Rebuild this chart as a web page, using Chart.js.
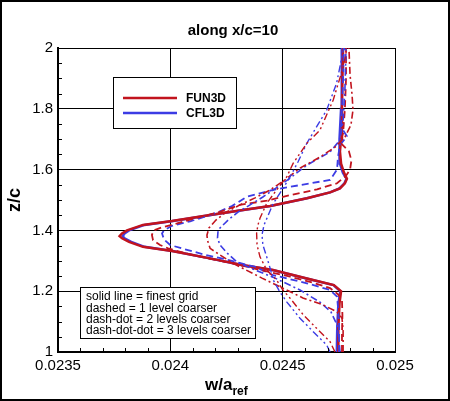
<!DOCTYPE html>
<html>
<head>
<meta charset="utf-8">
<script src="https://cdn.jsdelivr.net/npm/chart.js@4.4.0/dist/chart.umd.min.js"></script>
<style>
  html, body { margin: 0; padding: 0; background: #fff; }
  #wrap { width: 450px; height: 401px; }
</style>
</head>
<body>
<div id="wrap"><canvas id="profileChart"></canvas></div>
<script>
// axis ticks
const wTicks = [0.0235, 0.024, 0.0245, 0.025];
const zTicks = [1, 1.2, 1.4, 1.6, 1.8, 2];
const wMinorTicks = [0.0236, 0.0237, 0.0238, 0.0239, 0.0241, 0.0242, 0.0243, 0.0244,
                     0.0246, 0.0247, 0.0248, 0.0249];
const zMinorTicks = [1.05, 1.1, 1.15, 1.25, 1.3, 1.35, 1.45, 1.5, 1.55, 1.65, 1.7, 1.75, 1.85, 1.9, 1.95];

const titleText = 'along x/c=10';
const legendNames = ['FUN3D', 'CFL3D'];
const noteLines = [
    'solid line = finest grid',
    'dashed = 1 level coarser',
    'dash-dot = 2 levels coarser',
    'dash-dot-dot = 3 levels coarser'
];

// FUN3D, finest grid
const fun3dFineZ = [1.0, 1.08, 1.16, 1.2, 1.22, 1.242, 1.27, 1.286, 1.308, 1.332, 1.346, 1.362, 1.374, 1.381, 1.39, 1.4, 1.418, 1.431, 1.451, 1.467, 1.48, 1.506, 1.525, 1.538, 1.555, 1.57, 1.59, 1.62, 1.66, 1.7, 1.8, 1.9, 2.0];
const fun3dFineW = [0.024748, 0.024748, 0.024753, 0.024760, 0.024728, 0.024608, 0.024457, 0.024319, 0.024177, 0.024007, 0.023878, 0.023816, 0.023785, 0.023774, 0.023785, 0.023807, 0.023878, 0.024007, 0.024177, 0.024323, 0.024444, 0.024608, 0.024711, 0.024755, 0.024777, 0.024786, 0.024773, 0.024760, 0.024755, 0.024760, 0.024764, 0.024766, 0.024769];
// CFL3D, finest grid
const cfl3dFineZ = fun3dFineZ.slice();
const cfl3dFineW = [0.024741, 0.024743, 0.024748, 0.024757, 0.024726, 0.024606, 0.024455, 0.024317, 0.024175, 0.024010, 0.023885, 0.023826, 0.023796, 0.023788, 0.023796, 0.023816, 0.023885, 0.024012, 0.024180, 0.024325, 0.024446, 0.024608, 0.024711, 0.024753, 0.024775, 0.024784, 0.024768, 0.024755, 0.024751, 0.024755, 0.024760, 0.024762, 0.024764];

// 1 level coarser
const fun3dC1Z = [1.0, 1.06, 1.12, 1.17, 1.19, 1.21, 1.226, 1.248, 1.27, 1.29, 1.31, 1.325, 1.341, 1.352, 1.368, 1.385, 1.40, 1.41, 1.423, 1.44, 1.461, 1.484, 1.498, 1.516, 1.535, 1.555, 1.58, 1.60, 1.63, 1.66, 1.69, 1.72, 1.8, 1.9, 2.0];
const fun3dC1W = [0.024764, 0.024764, 0.024766, 0.024764, 0.024746, 0.024711, 0.024644, 0.024533, 0.024399, 0.024288, 0.024154, 0.024065, 0.023990, 0.023954, 0.023923, 0.023918, 0.023927, 0.023963, 0.024030, 0.024110, 0.024221, 0.024310, 0.024430, 0.024533, 0.024653, 0.024742, 0.024782, 0.024800, 0.024806, 0.024795, 0.024755, 0.024769, 0.024777, 0.024782, 0.024782];
const cfl3dC1Z = [1.0, 1.1, 1.15, 1.182, 1.204, 1.226, 1.253, 1.28, 1.30, 1.32, 1.336, 1.352, 1.37, 1.39, 1.40, 1.415, 1.43, 1.445, 1.46, 1.48, 1.511, 1.533, 1.549, 1.566, 1.6, 1.64, 1.68, 1.71, 1.74, 1.8, 1.9, 2.0];
const cfl3dC1W = [0.024751, 0.024751, 0.024746, 0.024742, 0.024711, 0.024608, 0.024457, 0.024377, 0.024274, 0.024154, 0.024074, 0.023999, 0.023972, 0.023963, 0.023972, 0.024007, 0.024088, 0.024154, 0.024212, 0.024274, 0.024341, 0.024457, 0.024577, 0.024711, 0.024742, 0.024746, 0.024755, 0.024786, 0.024760, 0.024764, 0.024769, 0.024773];

// 2 levels coarser
const fun3dC2Z = [1.0, 1.07, 1.112, 1.132, 1.155, 1.178, 1.21, 1.243, 1.28, 1.292, 1.319, 1.341, 1.368, 1.385, 1.408, 1.434, 1.46, 1.484, 1.507, 1.533, 1.566, 1.605, 1.641, 1.674, 1.707, 1.747, 1.796, 1.845, 1.911, 2.0];
const fun3dC2W = [0.024769, 0.024769, 0.024764, 0.024742, 0.024680, 0.024590, 0.024501, 0.024408, 0.024310, 0.024279, 0.024221, 0.024177, 0.024165, 0.024163, 0.024172, 0.024203, 0.024248, 0.024310, 0.024377, 0.024444, 0.024510, 0.024577, 0.024666, 0.024733, 0.024777, 0.024804, 0.024813, 0.024809, 0.024800, 0.024795];
const cfl3dC2Z = [1.0, 1.039, 1.089, 1.132, 1.164, 1.204, 1.243, 1.27, 1.296, 1.326, 1.352, 1.375, 1.395, 1.408, 1.434, 1.46, 1.484, 1.51, 1.539, 1.572, 1.615, 1.658, 1.697, 1.763, 1.862, 2.0];
const cfl3dC2W = [0.024755, 0.024751, 0.024742, 0.024715, 0.024666, 0.024577, 0.024466, 0.024377, 0.024297, 0.024252, 0.024221, 0.024210, 0.024212, 0.024221, 0.024257, 0.024301, 0.024355, 0.024412, 0.024470, 0.024533, 0.024608, 0.024711, 0.024755, 0.024769, 0.024777, 0.024782];

// 3 levels coarser
const fun3dC3Z = [1.0, 1.034, 1.078, 1.122, 1.177, 1.204, 1.237, 1.27, 1.313, 1.352, 1.391, 1.418, 1.44, 1.489, 1.533, 1.576, 1.621, 1.686, 1.73, 1.829, 1.938, 2.0];
const fun3dC3W = [0.024733, 0.024711, 0.024651, 0.024592, 0.024533, 0.024501, 0.024473, 0.024429, 0.024399, 0.024386, 0.024384, 0.024390, 0.024399, 0.024429, 0.024473, 0.024518, 0.024547, 0.024607, 0.024666, 0.024725, 0.024770, 0.024786];
const cfl3dC3Z = [1.0, 1.023, 1.067, 1.111, 1.165, 1.197, 1.237, 1.276, 1.313, 1.352, 1.385, 1.418, 1.44, 1.487, 1.533, 1.576, 1.625, 1.686, 1.737, 1.796, 1.884, 1.993, 2.0];
const cfl3dC3W = [0.024711, 0.024696, 0.024636, 0.024577, 0.024518, 0.024488, 0.024458, 0.024444, 0.024429, 0.024412, 0.024408, 0.024417, 0.024430, 0.024457, 0.024497, 0.024533, 0.024568, 0.024607, 0.024648, 0.024696, 0.024740, 0.024770, 0.024771];

const RED = '#c2141e';
const BLUE = '#3c3ce4';
const FONT = '"Liberation Sans", Arial, Helvetica, sans-serif';

const DASHED = [7, 4];
const DASH_DOT = [7, 3, 2, 3];
const DASH_DOT_DOT = [7, 3, 2, 3, 2, 3];

function toPoints(w, z) {
    return w.map((v, i) => ({ x: v, y: z[i] }));
}

function makeSet(label, w, z, color, dash, width) {
    return {
        label: label,
        data: toPoints(w, z),
        showLine: true,
        fill: false,
        borderColor: color,
        backgroundColor: color,
        borderWidth: width,
        borderDash: dash,
        pointRadius: 0,
        tension: 0
    };
}

const decorPlugin = {
    id: 'decor',
    beforeDraw(chart) {
        const ctx = chart.ctx;
        ctx.save();
        ctx.fillStyle = '#fff';
        ctx.fillRect(0, 0, chart.width, chart.height);
        ctx.restore();
    },
    afterDraw(chart) {
        const ctx = chart.ctx;
        const xs = chart.scales.x;
        const ys = chart.scales.y;
        const area = chart.chartArea;
        ctx.save();

        // minor ticks, inside the plot
        ctx.strokeStyle = '#000';
        ctx.lineWidth = 1;
        ctx.beginPath();
        zMinorTicks.forEach(v => {
            const p = Math.round(ys.getPixelForValue(v)) + 0.5;
            ctx.moveTo(area.left, p);
            ctx.lineTo(area.left + 4, p);
        });
        wMinorTicks.forEach(v => {
            const p = Math.round(xs.getPixelForValue(v)) + 0.5;
            ctx.moveTo(p, area.bottom);
            ctx.lineTo(p, area.bottom - 4);
        });
        ctx.stroke();

        // title
        ctx.fillStyle = '#000';
        ctx.textAlign = 'center';
        ctx.textBaseline = 'middle';
        ctx.font = 'bold 15px ' + FONT;
        ctx.fillText(titleText, 233, 31);

        // x axis title with subscript
        ctx.textAlign = 'left';
        ctx.textBaseline = 'alphabetic';
        ctx.font = 'bold 17px ' + FONT;
        ctx.fillText('w/a', 205, 390);
        const wa = ctx.measureText('w/a').width;
        ctx.font = 'bold 12px ' + FONT;
        ctx.fillText('ref', 205 + wa, 395);

        // y axis title
        ctx.save();
        ctx.translate(20, 200);
        ctx.rotate(-Math.PI / 2);
        ctx.textAlign = 'center';
        ctx.font = 'bold 18px ' + FONT;
        ctx.fillText('z/c', 0, 0);
        ctx.restore();

        // legend box
        ctx.fillStyle = '#fff';
        ctx.fillRect(113.5, 77.5, 123, 51);
        ctx.strokeStyle = '#000';
        ctx.lineWidth = 1;
        ctx.strokeRect(113.5, 77.5, 123, 51);
        [RED, BLUE].forEach((c, i) => {
            const y = 98 + i * 15;
            ctx.strokeStyle = c;
            ctx.lineWidth = 2.5;
            ctx.beginPath();
            ctx.moveTo(123, y);
            ctx.lineTo(177, y);
            ctx.stroke();
            ctx.fillStyle = '#000';
            ctx.font = 'bold 12px ' + FONT;
            ctx.textAlign = 'left';
            ctx.textBaseline = 'middle';
            ctx.fillText(legendNames[i], 186, y + 0.5);
        });

        // note box
        ctx.fillStyle = '#fff';
        ctx.fillRect(80.5, 287.5, 175, 51);
        ctx.strokeStyle = '#000';
        ctx.lineWidth = 1;
        ctx.strokeRect(80.5, 287.5, 175, 51);
        ctx.fillStyle = '#000';
        ctx.font = '12px ' + FONT;
        ctx.textAlign = 'left';
        ctx.textBaseline = 'middle';
        noteLines.forEach((t, i) => {
            ctx.fillText(t, 86, 297 + i * 11.2);
        });

        // outer frame
        ctx.strokeStyle = '#000';
        ctx.lineWidth = 2;
        ctx.strokeRect(1, 1, chart.width - 2, chart.height - 2);
        ctx.restore();
    }
};

function drawProfileChart() {
    const ctx = document.getElementById('profileChart').getContext('2d');

    // coarse levels first so the finest curves sit on top
    const datasets = [
        makeSet('FUN3D 3 coarser', fun3dC3W, fun3dC3Z, RED, DASH_DOT_DOT, 1.4),
        makeSet('CFL3D 3 coarser', cfl3dC3W, cfl3dC3Z, BLUE, DASH_DOT_DOT, 1.4),
        makeSet('FUN3D 2 coarser', fun3dC2W, fun3dC2Z, RED, DASH_DOT, 1.6),
        makeSet('CFL3D 2 coarser', cfl3dC2W, cfl3dC2Z, BLUE, DASH_DOT, 1.6),
        makeSet('FUN3D 1 coarser', fun3dC1W, fun3dC1Z, RED, DASHED, 1.8),
        makeSet('CFL3D 1 coarser', cfl3dC1W, cfl3dC1Z, BLUE, DASHED, 1.8),
        makeSet('FUN3D', fun3dFineW, fun3dFineZ, RED, [], 2.5),
        makeSet('CFL3D', cfl3dFineW, cfl3dFineZ, BLUE, [], 2.5)
    ];

    new Chart(ctx, {
        type: 'scatter',
        data: { datasets: datasets },
        options: {
            responsive: true,
            maintainAspectRatio: false,
            animation: false,
            layout: { padding: { left: 0, top: 48, right: 55, bottom: 0 } },
            plugins: {
                legend: { display: false },
                tooltip: { enabled: false },
                title: { display: false }
            },
            scales: {
                x: {
                    type: 'linear',
                    min: 0.0235,
                    max: 0.025,
                    afterBuildTicks: s => { s.ticks = wTicks.map(v => ({ value: v })); },
                    afterFit: s => { s.height = 49; },
                    grid: { color: '#000', lineWidth: 1, drawTicks: false },
                    border: { color: '#000', width: 2 },
                    ticks: {
                        padding: 5,
                        color: '#000',
                        font: { family: FONT, size: 15 },
                        callback: v => String(+v.toFixed(4))
                    }
                },
                y: {
                    type: 'linear',
                    min: 1,
                    max: 2,
                    afterBuildTicks: s => { s.ticks = zTicks.map(v => ({ value: v })); },
                    afterFit: s => { s.width = 58; },
                    grid: { color: '#000', lineWidth: 1, drawTicks: false },
                    border: { color: '#000', width: 2 },
                    ticks: {
                        padding: 5,
                        color: '#000',
                        font: { family: FONT, size: 15 },
                        callback: v => String(+v.toFixed(1))
                    }
                }
            }
        },
        plugins: [decorPlugin]
    });
}

drawProfileChart();
</script>
</body>
</html>
